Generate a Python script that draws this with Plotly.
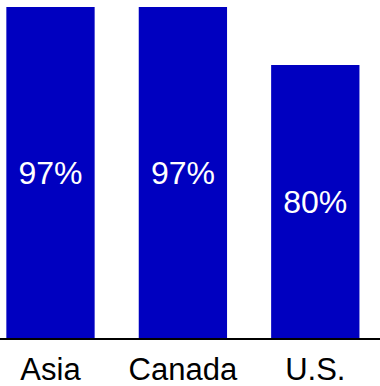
import plotly.graph_objects as go

categories = ["Asia", "Canada", "U.S."]
values = [97, 97, 80]
labels = ["97%", "97%", "80%"]

fig = go.Figure(go.Bar(
    x=categories, y=values, text=labels,
    textposition="inside", insidetextanchor="middle",
    textfont=dict(family="Liberation Sans, Arial", size=32, color="white"),
    marker=dict(color="#0000C0", line=dict(width=0)),
    cliponaxis=False,
))
fig.update_layout(
    width=380, height=386,
    margin=dict(l=0, r=0, t=0, b=48),
    paper_bgcolor="white", plot_bgcolor="white",
    bargap=0.333, showlegend=False,
    uniformtext=dict(minsize=32, mode="show"),
)
fig.update_xaxes(
    range=[-0.3814, 2.4887], showline=True, linecolor="black", linewidth=2,
    showgrid=False, ticks="outside", ticklen=3, tickcolor="rgba(0,0,0,0)", zeroline=False,
    tickfont=dict(family="Liberation Sans, Arial", size=31, color="black"),
)
fig.update_yaxes(range=[0, 99.05], visible=False, showgrid=False, zeroline=False)
fig.write_html("out.html")
